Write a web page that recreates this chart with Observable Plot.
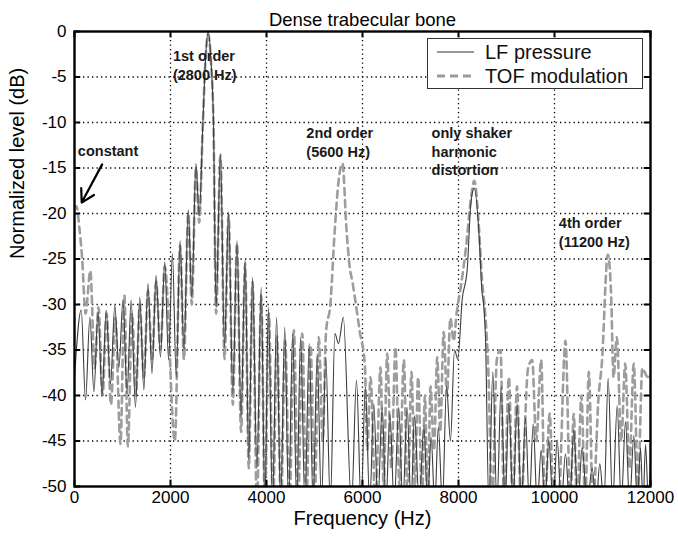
<!DOCTYPE html>
<html>
<head>
<meta charset="utf-8">
<script src="https://cdn.jsdelivr.net/npm/d3@7"></script>
<script src="https://cdn.jsdelivr.net/npm/@observablehq/plot@0.6"></script>
<style>
  html, body { margin: 0; padding: 0; background: #fff; }
  #wrap { position: relative; width: 678px; height: 539px; font-family: "Liberation Sans", Arial, sans-serif; }
  #legend { position: absolute; left: 427px; top: 38px; width: 216px; height: 51px; border: 1px solid #333; background: #fff; box-sizing: border-box; }
  #legend .row { position: absolute; left: 0; height: 24px; display: flex; align-items: center; font-size: 20px; color: #111; white-space: nowrap; }
  #legend svg { margin-left: 9px; margin-right: 11px; }
</style>
</head>
<body>
<div id="wrap">
  <div id="chart"></div>
  <div id="legend">
    <div class="row" style="top:1px"><svg width="37" height="10"><line x1="0" y1="5" x2="37" y2="5" stroke="#333" stroke-width="1.2"/></svg>LF pressure</div>
    <div class="row" style="top:25px"><svg width="37" height="10"><line x1="0" y1="5" x2="37" y2="5" stroke="#9a9a9a" stroke-width="3" stroke-dasharray="8,5"/></svg>TOF modulation</div>
  </div>
</div>
<script>
// ---- Data ----
const xTicks = [0, 2000, 4000, 6000, 8000, 10000, 12000];
const yTicks = [0, -5, -10, -15, -20, -25, -30, -35, -40, -45, -50];

// LF pressure spectrum: frequency (Hz) and level (dB), peaks and nulls
const lfFreq = [0,140,230,320,405,490,575,660,750,840,925,1010,1095,1180,1270,1360,1445,1530,1615,1700,1790,1880,1960,2040,2120,2200,2280,2370,2444,2530,2597,2675,2730,2785,2840,2895,2950,3040,3125,3210,3298,3385,3470,3555,3630,3710,3800,3890,3965,4040,4125,4210,4295,4380,4460,4545,4630,4710,4800,4890,4970,5055,5145,5235,5330,5425,5500,5600,5770,5875,5970,6060,6150,6235,6320,6410,6490,6570,6660,6755,6840,6930,7010,7085,7180,7280,7355,7430,7505,7580,7665,7750,7833,7917,7986,8076,8181,8257,8327,8431,8486,8528,8562,8632,8715,8800,8889,8970,9049,9135,9222,9310,9396,9475,9556,9640,9722,9800,9881,9970,10056,10140,10229,10315,10402,10490,10576,10680,10785,10865,10944,11030,11118,11210,11306,11390,11479,11565,11653,11725,11792,11845,11896,11960,12000];
const lfDb = [-38,-30.6,-40.5,-31.4,-39.6,-30.8,-40,-30.6,-38.7,-30.1,-36.9,-29.5,-39.8,-29.5,-41.3,-29.2,-39.4,-27.7,-37.6,-26.8,-35.8,-25.3,-36.1,-24.4,-38,-23,-35,-19.6,-29.2,-14.5,-20.3,-10,-3,0,-3,-10,-30.3,-13.4,-34.7,-19.8,-39.8,-23,-42.4,-25.1,-47,-27,-48,-28.1,-52,-30.3,-52,-31.4,-52,-32.5,-52,-33.2,-52,-33.6,-52,-34.3,-52,-35.6,-52,-35.8,-52,-33.2,-34.3,-31.4,-52,-38.3,-52,-39,-52,-40.9,-52,-41.3,-52,-42,-52,-41.3,-52,-41.3,-52,-42.2,-52,-43.3,-52,-44.6,-52,-43.5,-52,-39,-45,-35,-36,-29.5,-26.2,-18.9,-17.2,-22.6,-28.4,-30.3,-33.6,-52,-37.4,-52,-39,-52,-40.9,-52,-40.9,-52,-42.4,-52,-43.1,-52,-46,-52,-44.9,-52,-44.9,-52,-46.4,-52,-43.8,-52,-45.7,-52,-48,-52,-47.5,-52,-38.1,-52,-41.1,-52,-42.9,-52,-44.4,-52,-45.8,-52,-45.4,-52,-47];

// TOF modulation spectrum
const tofFreq = [0,40,100,160,230,330,420,500,585,670,760,850,958,1040,1111,1200,1280,1360,1445,1530,1615,1700,1790,1880,2090,2200,2280,2370,2444,2530,2597,2675,2730,2785,2840,2895,2950,3040,3125,3210,3298,3385,3470,3555,3630,3710,3800,3890,3965,4050,4135,4220,4300,4390,4480,4570,4660,4745,4830,4920,5000,5090,5170,5240,5330,5420,5500,5583,5667,5736,5790,5840,5944,6049,6100,6167,6270,6375,6440,6514,6600,6688,6770,6861,6940,7021,7090,7160,7240,7300,7360,7417,7490,7556,7620,7690,7760,7830,7900,7960,8050,8150,8257,8327,8431,8486,8562,8620,8700,8800,8875,8950,9050,9130,9220,9300,9450,9535,9620,9722,9800,9900,9980,10080,10229,10330,10400,10470,10560,10640,10715,10800,10920,10986,11111,11180,11230,11299,11390,11473,11560,11650,11740,11830,11924,12000];
const tofDb = [-19.5,-19.2,-21.5,-25,-31,-26.3,-37,-30.3,-40,-31,-41,-31.5,-45.3,-29,-45.6,-31,-40,-30,-38,-28.5,-36,-27.5,-35,-25.8,-45,-23.5,-36,-20,-30,-15,-21,-10,-3,-0.3,-3,-10,-31,-13.6,-36,-20.2,-41,-23.3,-44,-25.5,-48,-27.5,-52,-29,-52,-31,-52,-33.5,-52,-34,-52,-32.8,-52,-33.2,-52,-34.5,-52,-33.6,-45,-33,-30,-22,-16.5,-14.5,-21.8,-26,-27.5,-29.2,-33,-36.6,-46,-38,-52,-36.9,-50,-35.4,-48,-34.7,-50,-36.1,-52,-37.4,-50,-38,-52,-40,-52,-39,-46,-35.8,-44,-33,-40,-31.5,-34,-31,-28,-24,-18.5,-16.4,-22,-27,-31.4,-37,-52,-36,-35,-52,-38,-52,-39,-52,-37,-36.1,-45,-36.1,-52,-42,-52,-52,-34,-52,-42,-52,-40,-52,-37.4,-52,-40,-36.5,-24.5,-29,-38,-33.6,-45,-36.5,-48,-36.5,-50,-37,-37.9,-38];

// Annotations
const noteText = ["1st order\n(2800 Hz)", "2nd order\n(5600 Hz)", "only shaker\nharmonic\ndistortion", "4th order\n(11200 Hz)", "constant"];
const noteFreq = [2050, 4830, 7440, 10090, 70];
const noteDb = [-1.8, -10.2, -10.2, -20.1, -12.2];

const lf = lfFreq.map((f, i) => ({f, db: lfDb[i]}));
const tof = tofFreq.map((f, i) => ({f, db: tofDb[i]}));
const notes = noteText.map((t, i) => ({t, f: noteFreq[i], db: noteDb[i]}));

const innerX = xTicks.slice(1, -1);
const innerY = yTicks.slice(1, -1);

const chart = Plot.plot({
  width: 678,
  height: 539,
  marginLeft: 74,
  marginRight: 28,
  marginTop: 31,
  marginBottom: 53,
  style: {fontFamily: "'Liberation Sans', Arial, sans-serif", background: "#fff", color: "#000"},
  x: {domain: [0, 12000]},
  y: {domain: [-50, 0]},
  marks: [
    Plot.ruleX(innerX, {x: d => d, stroke: "#000", strokeWidth: 1.3, strokeDasharray: "1.3,3.2"}),
    Plot.ruleY(innerY, {y: d => d, stroke: "#000", strokeWidth: 1.3, strokeDasharray: "1.3,3.2"}),
    Plot.line(tof, {x: "f", y: "db", curve: "monotone-x", stroke: "#9d9d9d", strokeWidth: 2.6, strokeDasharray: "7,5", clip: true}),
    Plot.line(lf, {x: "f", y: "db", curve: "monotone-x", stroke: "#3c3c3c", strokeWidth: 1.1, clip: true}),
    // inward ticks (bottom/top/left/right)
    Plot.ruleX(xTicks, {x: d => d, y1: -50, y2: -49.3, stroke: "#000", strokeWidth: 2}),
    Plot.ruleX(xTicks, {x: d => d, y1: 0, y2: -0.7, stroke: "#000", strokeWidth: 2}),
    Plot.ruleY(yTicks, {y: d => d, x1: 0, x2: 130, stroke: "#000", strokeWidth: 2}),
    Plot.ruleY(yTicks, {y: d => d, x1: 11870, x2: 12000, stroke: "#000", strokeWidth: 2}),
    Plot.frame({stroke: "#000", strokeWidth: 2.4, strokeOpacity: 1}),
    Plot.axisX(xTicks, {tickSize: 0, tickPadding: 4, fontSize: 17, label: null, tickFormat: d => String(d)}),
    Plot.axisY(yTicks, {tickSize: 0, tickPadding: 8, fontSize: 17, label: null, tickFormat: d => String(d)}),
    Plot.text(notes, {x: "f", y: "db", text: "t", textAnchor: "start", lineAnchor: "top", lineHeight: 1.3, fontSize: 14.5, fontWeight: "bold", fill: "#1a1a1a"}),
    Plot.arrow([{x1: 576, y1: -14.6, x2: 150, y2: -18.8}], {x1: "x1", y1: "y1", x2: "x2", y2: "y2", stroke: "#000", strokeWidth: 2.2, headLength: 12}),
    Plot.text(["Dense trabecular bone"], {frameAnchor: "top", dy: -19, fontSize: 18.5}),
    Plot.text(["Frequency (Hz)"], {frameAnchor: "bottom", dy: 38, fontSize: 20}),
    Plot.text(["Normalized level (dB)"], {frameAnchor: "left", dx: -57, rotate: -90, fontSize: 20})
  ]
});
document.getElementById("chart").appendChild(chart);
</script>
</body>
</html>
